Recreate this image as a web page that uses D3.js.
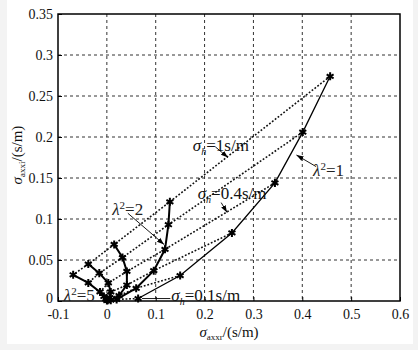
<!DOCTYPE html>
<html><head><meta charset="utf-8">
<script src="https://cdn.jsdelivr.net/npm/d3@7"></script>
<style>body{margin:0;background:#f3f3f3;} svg{display:block;} text{font-family:"Liberation Serif","DejaVu Serif",serif;}</style>
</head><body>
<svg id="c" width="418" height="350"></svg>
<script>
// λ² curves (solid), points ordered by σh index (1 s/m ... 0.1 s/m)
const lambdaLabels = ["λ²=1","λ²=2","λ²=3","λ²=4","λ²=5"];
const lam1X = [0.457, 0.401, 0.344, 0.256, 0.150, 0.064];
const lam1Y = [0.274, 0.206, 0.144, 0.083, 0.031, 0.003];
const lam2X = [0.129, 0.126, 0.119, 0.096, 0.060, 0.020];
const lam2Y = [0.121, 0.093, 0.063, 0.037, 0.0155, 0.002];
const lam3X = [0.015, 0.032, 0.041, 0.041, 0.025, 0.008];
const lam3Y = [0.069, 0.053, 0.036, 0.0195, 0.0067, 0.001];
const lam4X = [-0.038, -0.0155, 0.003, 0.008, 0.006, 0.002];
const lam4Y = [0.045, 0.034, 0.022, 0.011, 0.004, 0.001];
const lam5X = [-0.069, -0.038, -0.014, -0.006, -0.002, 0.000];
const lam5Y = [0.032, 0.022, 0.011, 0.0055, 0.0025, 0.0006];
const xTicks = [-0.1, 0, 0.1, 0.2, 0.3, 0.4, 0.5, 0.6];
const yTicks = [0, 0.05, 0.1, 0.15, 0.2, 0.25, 0.3, 0.35];
const xTickLabels = ["-0.1","0","0.1","0.2","0.3","0.4","0.5","0.6"];
const yTickLabels = ["0","0.05","0.1","0.15","0.2","0.25","0.3","0.35"];

const curvesX = [lam1X, lam2X, lam3X, lam4X, lam5X];
const curvesY = [lam1Y, lam2Y, lam3Y, lam4Y, lam5Y];
const curves = curvesX.map((xs, i) => xs.map((x, j) => [x, curvesY[i][j]]));
const nH = lam1X.length;
const hLines = d3.range(nH).map(j => curves.map(c => c[j]));

const svg = d3.select("#c");
svg.append("rect").attr("x",7).attr("y",0).attr("width",406).attr("height",344).attr("fill","#fff");
const L = 58, R = 400, T = 14, B = 301;
const x = d3.scaleLinear([-0.1, 0.6], [L, R]);
const y = d3.scaleLinear([0, 0.35], [B, T]);
const font = "Liberation Serif, DejaVu Serif, serif";

// grid
const g = svg.append("g");
g.selectAll(".gx").data(xTicks.slice(1, -1)).join("line")
  .attr("x1", d => x(d)).attr("x2", d => x(d)).attr("y1", T).attr("y2", B)
  .attr("stroke", "#333").attr("stroke-width", 1).attr("stroke-dasharray", "3,3");
g.selectAll(".gy").data(yTicks.slice(1, -1)).join("line")
  .attr("y1", d => y(d)).attr("y2", d => y(d)).attr("x1", L).attr("x2", R)
  .attr("stroke", "#333").attr("stroke-width", 1).attr("stroke-dasharray", "3,3");

// axes
const xa = svg.append("g").attr("transform", `translate(0,${B})`)
  .call(d3.axisBottom(x).tickValues(xTicks).tickFormat((d,i) => xTickLabels[i]).tickSizeInner(-4).tickSizeOuter(0).tickPadding(8));
const ya = svg.append("g").attr("transform", `translate(${L},0)`)
  .call(d3.axisLeft(y).tickValues(yTicks).tickFormat((d,i) => yTickLabels[i]).tickSizeInner(-4).tickSizeOuter(0).tickPadding(5));
[xa, ya].forEach(a => {
  a.attr("font-family", null);
  a.select(".domain").remove();
  a.selectAll("text").style("font-family", font).attr("font-size", 14).attr("fill", "#111");
  a.selectAll("line").attr("stroke", "#000");
});
ya.selectAll("text").filter((d, i) => i === 0).attr("dy", "0.1em");
svg.append("rect").attr("x", L).attr("y", T).attr("width", R - L).attr("height", B - T)
  .attr("fill", "none").attr("stroke", "#000").attr("stroke-width", 1.5);

const line = d3.line().x(d => x(d[0])).y(d => y(d[1]));
// σh dotted lines
svg.append("g").selectAll("path").data(hLines).join("path")
  .attr("d", line).attr("fill", "none").attr("stroke", "#111")
  .attr("stroke-width", 1.6).attr("stroke-dasharray", "1.8,1.8");
// λ² solid curves
svg.append("g").selectAll("path").data(curves).join("path")
  .attr("d", line).attr("fill", "none").attr("stroke", "#000")
  .attr("stroke-width", (d, i) => i === 0 ? 1.3 : 2);
// markers
const sym = d3.symbol().type(d3.symbolAsterisk).size(45);
svg.append("g").selectAll("path").data(curves.flat()).join("path")
  .attr("d", sym).attr("transform", d => `translate(${x(d[0])},${y(d[1])})`)
  .attr("stroke", "#000").attr("stroke-width", 2).attr("fill", "#000");

// annotations
const defs = svg.append("defs");
defs.append("marker").attr("id", "ah").attr("viewBox", "0 0 10 10").attr("refX", 10).attr("refY", 5)
  .attr("markerWidth", 8).attr("markerHeight", 8).attr("orient", "auto")
  .append("path").attr("d", "M0,1.5L10,5L0,8.5Z").attr("fill", "#000");

function arrow(x1, y1, x2, y2) {
  svg.append("line").attr("x1", x(x1)).attr("y1", y(y1)).attr("x2", x(x2)).attr("y2", y(y2))
    .attr("stroke", "#000").attr("stroke-width", 0.9).attr("marker-end", "url(#ah)");
}
function sigmaLabel(px, py, val) {
  const t = svg.append("text").attr("x", x(px)).attr("y", y(py)).style("font-family", font)
    .attr("font-size", 17).attr("fill", "#111");
  t.append("tspan").attr("font-style", "italic").text("σ");
  t.append("tspan").attr("font-style", "italic").attr("font-size", 10).attr("dy", 4).text("h");
  t.append("tspan").attr("dy", -4).text("=" + val);
}
function lamLabel(px, py, val) {
  const t = svg.append("text").attr("x", x(px)).attr("y", y(py)).style("font-family", font)
    .attr("font-size", 17).attr("fill", "#222");
  t.append("tspan").attr("font-style", "italic").text("λ");
  t.append("tspan").attr("font-size", 11).attr("dy", -6).text("2");
  t.append("tspan").attr("dy", 6).text("=" + val);
}
sigmaLabel(0.176, 0.183, "1s/m");
arrow(0.222, 0.188, 0.248, 0.175);
sigmaLabel(0.186, 0.124, "0.4s/m");
arrow(0.234, 0.120, 0.246, 0.108);
lamLabel(0.422, 0.152, "1");
arrow(0.428, 0.164, 0.388, 0.178);
lamLabel(0.011, 0.105, "2");
arrow(0.043, 0.107, 0.117, 0.069);
lamLabel(-0.088, 0.0, "5");
sigmaLabel(0.132, 0.0, "0.1s/m");
svg.append("line").attr("x1", x(0.072)).attr("x2", x(0.130)).attr("y1", y(0.003)).attr("y2", y(0.003))
  .attr("stroke", "#000").attr("stroke-width", 0.9);

// axis titles
const xl = svg.append("text").attr("x", 229).attr("y", 337).attr("text-anchor", "middle")
  .style("font-family", font).attr("font-size", 15).attr("fill", "#111");
xl.append("tspan").attr("font-style", "italic").text("σ");
xl.append("tspan").attr("font-size", 9).attr("dy", 3).text("axxr");
xl.append("tspan").attr("dy", -3).text("/(s/m)");
const yl = svg.append("text").attr("transform", "translate(22,155) rotate(-90)").attr("text-anchor", "middle")
  .style("font-family", font).attr("font-size", 15).attr("fill", "#111");
yl.append("tspan").attr("font-style", "italic").text("σ");
yl.append("tspan").attr("font-size", 9).attr("dy", 3).text("axxi");
yl.append("tspan").attr("dy", -3).text("/(s/m)");
</script>
</body></html>
